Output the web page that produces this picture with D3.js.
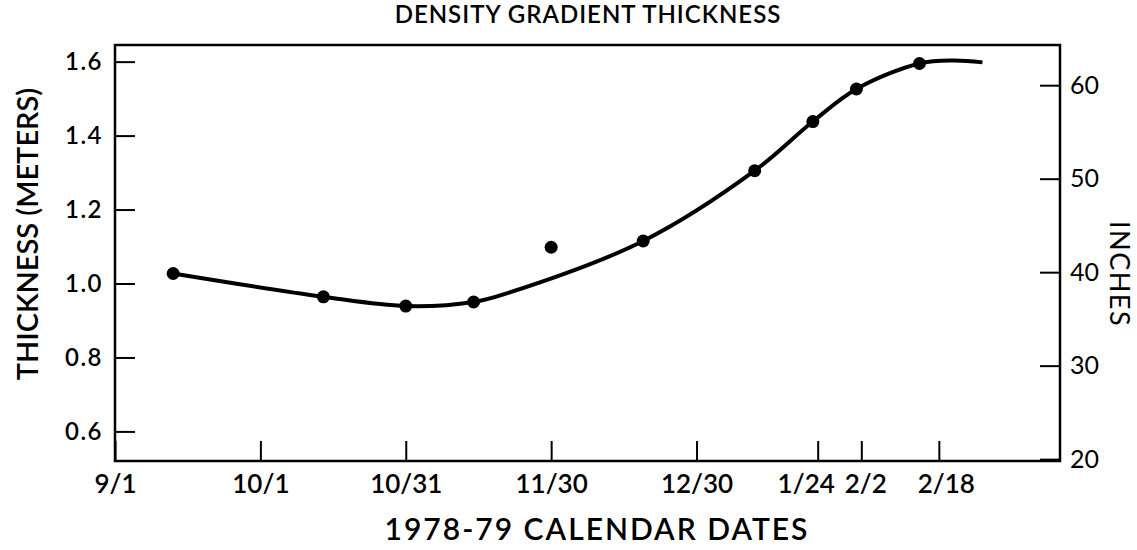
<!DOCTYPE html>
<html>
<head>
<meta charset="utf-8">
<script src="https://cdn.jsdelivr.net/npm/d3@7"></script>
<style>
  body { margin: 0; background: #fff; }
  text { font-family: Lato, "Open Sans", sans-serif; fill: #000; }
</style>
</head>
<body>
<div id="chart"></div>
<script>
// observed thickness (meters)
var obsDates = ["1978-09-13", "1978-10-14", "1978-10-31", "1978-11-14", "1978-11-30",
	"1978-12-19", "1979-01-11", "1979-01-23", "1979-02-01", "1979-02-14"];
var obsMeters = [1.027, 0.964, 0.939, 0.950, 1.098, 1.115, 1.305, 1.438, 1.526, 1.595];

// smooth fitted curve
var fitDates = ["1978-09-13", "1978-10-14", "1978-10-31", "1978-11-14", "1978-11-21",
	"1978-12-19", "1979-01-11", "1979-01-23", "1979-02-01", "1979-02-14", "1979-02-21", "1979-02-27"];
var fitMeters = [1.027, 0.964, 0.939, 0.950, 0.974, 1.115, 1.305, 1.438, 1.526, 1.595, 1.603, 1.598];

// axis ticks
var dateTicks = ["1978-09-01", "1978-10-01", "1978-10-31", "1978-11-30", "1978-12-30",
	"1979-01-24", "1979-02-02", "1979-02-18"];
var meterTicks = [0.6, 0.8, 1.0, 1.2, 1.4, 1.6];
var inchTicks = [20, 30, 40, 50, 60];

var W = 1137, H = 550;
var margin = {top: 45, right: 77, bottom: 89, left: 115},
	width = W - margin.left - margin.right,
	height = H - margin.top - margin.bottom;

var parse = d3.timeParse("%Y-%m-%d");

var obs = obsDates.map(function(d, i){ return {date: parse(d), m: obsMeters[i]}; });
var fit = fitDates.map(function(d, i){ return {date: parse(d), m: fitMeters[i]}; });

var xscale = d3.scaleTime()
	.domain([parse("1978-09-01"), parse("1979-03-15")])
	.range([0, width]);
var yscale = d3.scaleLinear().domain([0.52, 1.645]).range([height, 0]);
var yinch = d3.scaleLinear().domain([19.8, 64.3]).range([height, 0]);

var svg = d3.select("#chart").append("svg")
	.attr("width", W)
	.attr("height", H);

var g = svg.append("g")
	.attr("transform", "translate(" + margin.left + "," + margin.top + ")");

var fmtDate = function(d){ return (d.getMonth() + 1) + "/" + d.getDate(); };
// crowded labels near 1/24 and 2/2 are nudged apart like the drawing
var labelShift = {"1/24": -12, "2/2": 4, "2/18": 7};

var xAxis = d3.axisBottom(xscale)
	.tickValues(dateTicks.map(parse))
	.tickFormat(fmtDate)
	.tickSizeInner(-20).tickSizeOuter(0).tickPadding(14);
var yAxis = d3.axisLeft(yscale)
	.tickValues(meterTicks)
	.tickFormat(d3.format(".1f"))
	.tickSizeInner(-20).tickSizeOuter(0).tickPadding(12);
var rAxis = d3.axisRight(yinch)
	.tickValues(inchTicks)
	.tickSizeInner(-20).tickSizeOuter(0).tickPadding(10);

var gx = g.append("g")
	.attr("transform", "translate(0," + height + ")")
	.call(xAxis);
gx.selectAll("text")
	.style("font-size", "26px").style("font-weight", 600)
	.attr("dx", function(d){ return labelShift[fmtDate(d)] || 0; });

var gy = g.append("g").call(yAxis);
gy.selectAll("text").style("font-size", "24px").style("font-weight", 600)
	.style("letter-spacing", "1.5px");

var gr = g.append("g")
	.attr("transform", "translate(" + width + ",0)")
	.call(rAxis);
gr.selectAll("text").style("font-size", "25px");

g.selectAll(".domain").remove();
g.selectAll(".tick line").attr("stroke", "#000").attr("stroke-width", 2);

// frame
g.append("rect")
	.attr("width", width)
	.attr("height", height)
	.attr("fill", "none")
	.attr("stroke", "#000")
	.attr("stroke-width", 2.5);

var line = d3.line()
	.x(function(d){ return xscale(d.date); })
	.y(function(d){ return yscale(d.m); })
	.curve(d3.curveCatmullRom.alpha(0.5));

g.append("path")
	.datum(fit)
	.attr("d", line)
	.attr("fill", "none")
	.attr("stroke", "#000")
	.attr("stroke-width", 4);

g.selectAll("circle")
	.data(obs).enter()
	.append("circle")
	.attr("cx", function(d){ return xscale(d.date); })
	.attr("cy", function(d){ return yscale(d.m); })
	.attr("r", 6.5)
	.attr("fill", "#000");

// titles
svg.append("text")
	.attr("x", 588)
	.attr("y", 23)
	.style("text-anchor", "middle")
	.style("font-size", "24px")
	.style("font-weight", 600)
	.style("letter-spacing", "1px")
	.text("DENSITY GRADIENT THICKNESS");

svg.append("text")
	.attr("x", 597)
	.attr("y", 540)
	.style("text-anchor", "middle")
	.style("font-size", "30px")
	.style("font-weight", 600)
	.style("letter-spacing", "2px")
	.text("1978-79 CALENDAR DATES");

svg.append("text")
	.attr("transform", "translate(38,234) rotate(-90)")
	.style("text-anchor", "middle")
	.style("font-size", "29px")
	.style("font-weight", 600)
	.text("THICKNESS (METERS)");

svg.append("text")
	.attr("transform", "translate(1110,274) rotate(90)")
	.style("text-anchor", "middle")
	.style("font-size", "27px")
	.style("letter-spacing", "1.5px")
	.text("INCHES");
</script>
</body>
</html>
